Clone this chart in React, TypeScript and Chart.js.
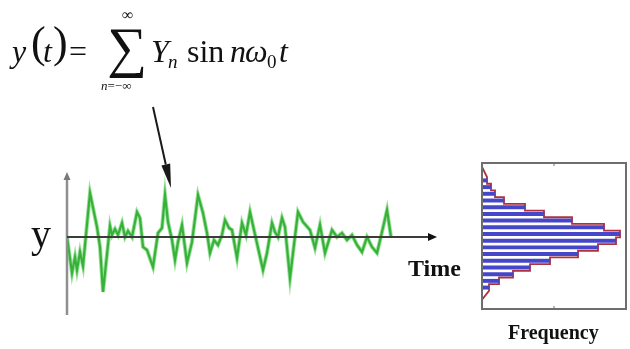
import React, { useEffect, useRef } from "react";
import { Chart, registerables } from "chart.js";

Chart.register(...registerables);

// Time series (arbitrary time units, amplitude units)
const timeValues = [
  0, 0.5, 0.8, 1.0, 1.3, 1.6, 2.3, 3.0, 3.3, 3.6, 4.3, 4.5, 4.8, 5.1, 5.5, 5.8, 6.1, 6.5,
  7.0, 7.3, 7.6, 8.0, 8.6, 9.1, 9.5, 9.8, 10.1, 10.5, 10.8, 11.1, 11.5, 12.0, 12.5, 13.1,
  13.6, 14.0, 14.3, 14.7, 15.1, 15.5, 15.8, 16.2, 16.5, 17.0, 17.5, 17.9, 18.3, 18.7, 19.6,
  20.0, 20.5, 20.8, 21.1, 21.5, 21.8, 22.3, 22.6, 23.1, 23.6, 24.3, 24.8, 25.3, 25.8, 26.5,
  27.0, 27.5, 28.0, 28.5, 29.0, 29.5, 30.0, 30.5, 31.0, 31.5, 32.0, 32.4,
];
const signalValues = [
  0, -3.6, -2.0, -3.3, -1.5, -2.9, 4.4, 1.0, -1.0, -5.5, 1.1, 0.2, 0.8, 0.2, 1.4, 0, 0.6, 0,
  2.5, 1.9, -1.0, -1.3, -3.0, 0.4, 0.9, 4.2, 1.5, -0.3, -2.3, -0.5, 1.2, -2.6, -0.5, 4.2,
  2.4, 0.4, -1.6, -0.3, -0.8, 0.2, 1.7, 0.9, 0.7, -2.1, 1.4, 0.2, 2.5, 0.7, -3.3,
  -1.6, 1.4, 0.5, 0, 1.9, 1.0, -4.1, -1.6, 2.5, 1.5, 0.7, -1.1, 1.2, -1.6, 0.7,
  0, 0.4, -0.3, 0.2, -0.8, -1.5, 0, -1.0, -1.6, 0.5, 2.7, 0,
];
const timeMax = 37;
const signalMin = -8.1;
const signalMax = 6.5;

// Histogram (bins from top to bottom, frequency counts)
const binIndex = [1, 2, 3, 4, 5, 6, 7, 8, 9, 10, 11, 12, 13, 14, 15, 16, 17];
const binCounts = [5, 9, 13, 22, 43, 62, 90, 122, 138, 134, 116, 96, 68, 48, 31, 17, 7];
const countMax = 144;
const binMin = -1.6;
const binMax = 20.2;

const SERIF = '"Liberation Serif", "Times New Roman", serif';

function T(props: {
  x: number;
  base: number;
  size: number;
  italic?: boolean;
  bold?: boolean;
  children: React.ReactNode;
}) {
  const { x, base, size, italic, bold, children } = props;
  return (
    <span
      style={{
        position: "absolute",
        left: x,
        top: base - 0.8375 * size,
        fontSize: size,
        lineHeight: `${size}px`,
        fontStyle: italic ? "italic" : "normal",
        fontWeight: bold ? "bold" : "normal",
        fontFamily: SERIF,
        whiteSpace: "nowrap",
        color: "#111",
      }}
    >
      {children}
    </span>
  );
}

export default function App() {
  const timeRef = useRef<HTMLCanvasElement | null>(null);
  const histRef = useRef<HTMLCanvasElement | null>(null);

  useEffect(() => {
    const points = timeValues.map((t, i) => ({ x: t, y: signalValues[i] }));

    const axesPlugin = {
      id: "timeAxes",
      afterDatasetsDraw(chart: any) {
        const { ctx } = chart;
        const xs = chart.scales.x;
        const ys = chart.scales.y;
        const x0 = xs.getPixelForValue(0);
        const y0 = ys.getPixelForValue(0);
        const yTop = ys.getPixelForValue(signalMax);
        const yBot = ys.getPixelForValue(signalMin) - 3;
        const xEnd = xs.getPixelForValue(timeMax);
        ctx.save();
        // y axis
        ctx.strokeStyle = "#8f8f8f";
        ctx.lineWidth = 2.5;
        ctx.beginPath();
        ctx.moveTo(x0, yBot);
        ctx.lineTo(x0, yTop + 4);
        ctx.stroke();
        ctx.fillStyle = "#7a7a7a";
        ctx.beginPath();
        ctx.moveTo(x0, yTop);
        ctx.lineTo(x0 - 3.5, yTop + 8);
        ctx.lineTo(x0 + 3.5, yTop + 8);
        ctx.closePath();
        ctx.fill();
        // x axis
        ctx.strokeStyle = "#3c3c3c";
        ctx.lineWidth = 2;
        ctx.beginPath();
        ctx.moveTo(x0, y0);
        ctx.lineTo(xEnd - 6, y0);
        ctx.stroke();
        ctx.fillStyle = "#111";
        ctx.beginPath();
        ctx.moveTo(xEnd, y0);
        ctx.lineTo(xEnd - 9, y0 - 4);
        ctx.lineTo(xEnd - 9, y0 + 4);
        ctx.closePath();
        ctx.fill();
        // annotation arrow from formula
        const ax0 = 153, ay0 = 107, ax1 = 171, ay1 = 188;
        const ang = Math.atan2(ay1 - ay0, ax1 - ax0);
        const hl = 24, hw = 4.5;
        const bx = ax1 - hl * Math.cos(ang), by = ay1 - hl * Math.sin(ang);
        ctx.strokeStyle = "#1a1a1a";
        ctx.lineWidth = 2;
        ctx.beginPath();
        ctx.moveTo(ax0, ay0);
        ctx.lineTo(bx, by);
        ctx.stroke();
        ctx.fillStyle = "#1a1a1a";
        ctx.beginPath();
        ctx.moveTo(ax1, ay1);
        ctx.lineTo(bx + hw * Math.sin(ang), by - hw * Math.cos(ang));
        ctx.lineTo(bx - hw * Math.sin(ang), by + hw * Math.cos(ang));
        ctx.closePath();
        ctx.fill();
        ctx.restore();
      },
    };

    const timeChart = new Chart(timeRef.current as HTMLCanvasElement, {
      type: "line",
      data: {
        datasets: [
          {
            data: points,
            borderColor: "rgba(70,200,70,0.55)",
            borderWidth: 4,
            pointRadius: 0,
            tension: 0,
          },
          {
            data: points,
            borderColor: "#27962a",
            borderWidth: 2.2,
            pointRadius: 0,
            tension: 0,
          },
        ],
      },
      options: {
        animation: false,
        responsive: false,
        layout: { padding: { left: 67, top: 172, right: 630 - 437, bottom: 349 - 318 } },
        plugins: { legend: { display: false }, tooltip: { enabled: false } },
        scales: {
          x: { type: "linear", min: 0, max: timeMax, display: false },
          y: { type: "linear", min: signalMin, max: signalMax, display: false },
        },
      },
      plugins: [axesPlugin],
    });

    const barData = binIndex.map((b, i) => ({ x: binCounts[i], y: b }));
    const outline: { x: number; y: number }[] = [{ x: 0, y: binIndex[0] - 2 }];
    binIndex.forEach((b, i) => {
      outline.push({ x: binCounts[i], y: b - 0.5 });
      outline.push({ x: binCounts[i], y: b + 0.5 });
    });
    outline.push({ x: 0, y: binIndex[binIndex.length - 1] + 1.8 });

    const boxPlugin = {
      id: "histBox",
      afterDraw(chart: any) {
        const { ctx, chartArea: a } = chart;
        ctx.save();
        ctx.strokeStyle = "#6e6e6e";
        ctx.lineWidth = 2;
        ctx.strokeRect(a.left, a.top, a.right - a.left, a.bottom - a.top);
        const mid = (a.left + a.right) / 2;
        ctx.lineWidth = 1;
        ctx.beginPath();
        ctx.moveTo(mid, a.top);
        ctx.lineTo(mid, a.top + 3);
        ctx.moveTo(mid, a.bottom);
        ctx.lineTo(mid, a.bottom - 3);
        ctx.stroke();
        ctx.restore();
      },
    };

    const histChart = new Chart(histRef.current as HTMLCanvasElement, {
      type: "bar",
      data: {
        datasets: [
          {
            type: "bar",
            data: barData,
            backgroundColor: "#4646c8",
            barThickness: 3.3,
            indexAxis: "y",
          } as any,
          {
            type: "line",
            data: outline,
            borderColor: "#b0303c",
            borderWidth: 1.8,
            pointRadius: 0,
            tension: 0,
            indexAxis: "y",
          } as any,
        ],
      },
      options: {
        animation: false,
        responsive: false,
        indexAxis: "y",
        layout: { padding: { left: 482, top: 163, right: 4, bottom: 349 - 309 } },
        plugins: { legend: { display: false }, tooltip: { enabled: false } },
        scales: {
          x: { type: "linear", min: 0, max: countMax, display: false, offset: false },
          y: {
            type: "linear",
            min: binMin,
            max: binMax,
            reverse: true,
            display: false,
            offset: false,
            grid: { offset: false },
          },
        },
      },
      plugins: [boxPlugin],
    });

    return () => {
      timeChart.destroy();
      histChart.destroy();
    };
  }, []);

  return (
    <div
      style={{
        position: "fixed",
        left: 0,
        top: 0,
        width: 630,
        height: 349,
        background: "#fff",
        overflow: "hidden",
      }}
    >
      <canvas ref={timeRef} width={630} height={349} style={{ position: "absolute", left: 0, top: 0 }} />
      <canvas ref={histRef} width={630} height={349} style={{ position: "absolute", left: 0, top: 0 }} />
      <T x={12} base={62} size={32} italic>y</T>
      <T x={31} base={58} size={44}>(</T>
      <T x={43} base={62} size={32} italic>t</T>
      <T x={53} base={58} size={44}>)</T>
      <T x={69} base={62} size={32}>=</T>
      <T x={107} base={66} size={56}>∑</T>
      <T x={122} base={20} size={16}>∞</T>
      <T x={101} base={90} size={13}>
        <i>n</i>=−∞
      </T>
      <T x={151} base={62} size={32} italic>Y</T>
      <T x={168} base={68} size={19} italic>n</T>
      <T x={187} base={62} size={32}>sin</T>
      <T x={230} base={62} size={32} italic>n</T>
      <T x={245} base={62} size={32} italic>ω</T>
      <T x={267} base={68} size={19}>0</T>
      <T x={279} base={62} size={32} italic>t</T>
      <T x={31} base={247} size={40}>y</T>
      <T x={408} base={276} size={24} bold>Time</T>
      <T x={508} base={339} size={20} bold>Frequency</T>
    </div>
  );
}
